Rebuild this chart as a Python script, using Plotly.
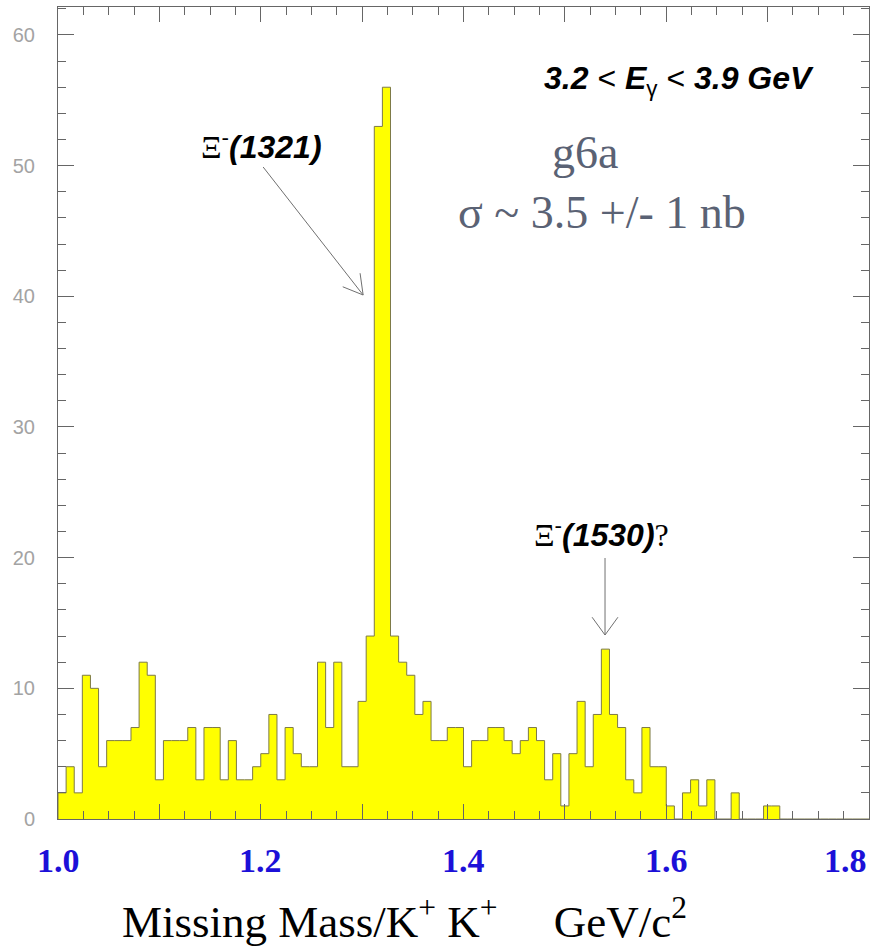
import numpy as np
import plotly.graph_objects as go

# ---------------- data ----------------
counts = [2, 4, 2, 11, 10, 4, 6, 6, 6, 7,
          12, 11, 3, 6, 6, 6, 7, 3, 7, 7,
          3, 6, 3, 3, 4, 5, 8, 3, 7, 5,
          4, 4, 12, 7, 12, 4, 4, 9, 14, 53,
          56, 14, 12, 11, 8, 9, 6, 6, 7, 7,
          4, 6, 6, 7, 7, 6, 5, 6, 7, 6,
          3, 5, 1, 5, 9, 4, 8, 13, 8, 7,
          3, 2, 7, 4, 4, 1, 0, 2, 3, 1,
          3, 0, 0, 2, 0, 0, 0, 1, 1, 0,
          0, 0, 0, 0, 0, 0, 0, 0, 0, 0]
bin_low = 1.0
bin_width = 0.008

x_tick_vals = [1.0, 1.2, 1.4, 1.6, 1.8]
x_tick_labels = ["1.0", "1.2", "1.4", "1.6", "1.8"]
y_tick_vals = [0, 10, 20, 30, 40, 50, 60]

# ---------------- histogram outline ----------------
edges = bin_low + bin_width * np.arange(len(counts) + 1)
xs = np.concatenate([[edges[0]], edges[:-1], [edges[-1]]])
ys = np.concatenate([[0], np.array(counts, dtype=float), [0]])

fig = go.Figure()
fig.add_trace(go.Scatter(
    x=xs, y=ys, mode="lines", line_shape="hv",
    fill="tozeroy", fillcolor="#ffff00",
    line=dict(color="#7d7a48", width=1),
    hoverinfo="skip", showlegend=False,
))

AX = "#666666"
fig.update_xaxes(
    range=[1.0, 1.8], showline=True, linecolor=AX, linewidth=1,
    mirror="ticks", ticks="inside", ticklen=15, tickcolor=AX, tickwidth=1,
    tick0=1.0, dtick=0.1, showticklabels=False, showgrid=False, zeroline=False,
    minor=dict(ticks="inside", dtick=0.025, ticklen=8, tickcolor=AX, tickwidth=1, showgrid=False),
)
fig.update_yaxes(
    range=[0, 62.14], showline=True, linecolor=AX, linewidth=1,
    mirror="ticks", ticks="inside", ticklen=16, tickcolor=AX, tickwidth=1,
    tickvals=y_tick_vals, showgrid=False, zeroline=False,
    tickfont=dict(family="Liberation Sans", size=20, color="#a3a3a3"),
    ticklabelstandoff=18,
    minor=dict(ticks="inside", dtick=2, ticklen=8, tickcolor=AX, tickwidth=1, showgrid=False),
)

ann = []
# blue overlay tick labels
for i, (v, lab) in enumerate(zip(x_tick_vals, x_tick_labels)):
    ann.append(dict(x=v, y=-0.0505, xref="x", yref="paper", showarrow=False,
                    text="<b>%s</b>" % lab,
                    xanchor="right" if i == len(x_tick_vals) - 1 else "center",
                    yanchor="middle",
                    font=dict(family="Liberation Serif", size=34, color="#1c10d8")))

# axis title
nb = "\u00a0"
ann.append(dict(x=0.427, y=-0.122, xref="paper", yref="paper", showarrow=False,
                text="Missing Mass/K<sup>+</sup> K<sup>+</sup>" + nb * 4 + " GeV/c<sup>2</sup>",
                xanchor="center", yanchor="middle",
                font=dict(family="Liberation Serif", size=45, color="#000000")))

XI = '<span style="font-family:Liberation Serif">\u039e</span><sup>-</sup>'
ann.append(dict(x=1.2012, y=51.6, showarrow=False,
                text=XI + "<b><i>(1321)</i></b>",
                font=dict(family="Liberation Sans", size=32, color="#000000")))
ann.append(dict(x=1.5366, y=21.9, showarrow=False,
                text=XI + '<b><i>(1530)</i></b><span style="font-family:Liberation Serif">?</span>',
                font=dict(family="Liberation Sans", size=32, color="#000000")))
ann.append(dict(x=1.6126, y=56.55, showarrow=False,
                text="<b><i>3.2</i></b> &lt; <b><i>E</i></b><sub>\u03b3</sub> &lt; <b><i>3.9 GeV</i></b>",
                font=dict(family="Liberation Sans", size=32, color="#000000")))
ann.append(dict(x=1.5199, y=51.0, showarrow=False, text="g6a",
                font=dict(family="Liberation Serif", size=46, color="#5a6274")))
ann.append(dict(x=1.5366, y=46.4, showarrow=False, text="\u03c3 ~ 3.5 +/- 1 nb",
                font=dict(family="Liberation Serif", size=46, color="#5a6274")))

shapes = []


def arrow(x, y, dx, dy, head_len=22.0, half_angle_deg=30.0, color="#707070"):
    """Arrow whose tip is at data point (x, y); tail offset (dx, dy) in pixels (y up)."""
    def seg(px, py):
        return dict(type="line", xref="x", yref="y", xsizemode="pixel", ysizemode="pixel",
                    xanchor=x, yanchor=y, x0=0, y0=0, x1=float(px), y1=float(py),
                    line=dict(color=color, width=1), layer="above")
    out = [seg(dx, dy)]
    d = np.array([dx, dy], dtype=float)
    d /= np.linalg.norm(d)
    for s in (1, -1):
        a = np.radians(half_angle_deg) * s
        r = np.array([d[0] * np.cos(a) - d[1] * np.sin(a),
                      d[0] * np.sin(a) + d[1] * np.cos(a)]) * head_len
        out.append(seg(r[0], r[1]))
    return out


shapes += arrow(1.301, 40.1, -100, 128, head_len=22, half_angle_deg=30)
shapes += arrow(1.5396, 14.08, 0, 77, head_len=22, half_angle_deg=36)

fig.update_layout(
    width=872, height=948,
    margin=dict(l=58, r=3, t=7, b=129, pad=0),
    paper_bgcolor="white", plot_bgcolor="white",
    annotations=ann, shapes=shapes, showlegend=False,
    font=dict(family="Liberation Sans"),
)

fig.write_html("out.html")
